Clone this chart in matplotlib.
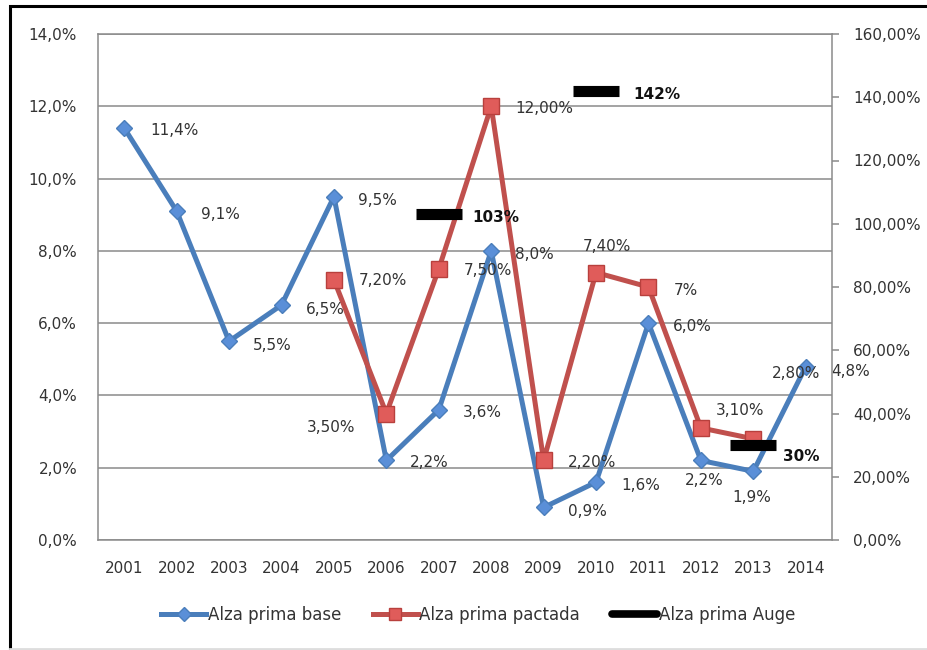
import matplotlib
matplotlib.use("Agg")
import matplotlib.pyplot as plt
from matplotlib.patches import Rectangle

years = ["2001", "2002", "2003", "2004", "2005", "2006", "2007",
         "2008", "2009", "2010", "2011", "2012", "2013", "2014"]
base = [11.4, 9.1, 5.5, 6.5, 9.5, 2.2, 3.6, 8.0, 0.9, 1.6, 6.0, 2.2, 1.9, 4.8]
base_labels = ["11,4%", "9,1%", "5,5%", "6,5%", "9,5%", "2,2%", "3,6%",
               "8,0%", "0,9%", "1,6%", "6,0%", "2,2%", "1,9%", "4,8%"]
pact_idx = [4, 5, 6, 7, 8, 9, 10, 11, 12]
pactada = [7.2, 3.5, 7.5, 12.0, 2.2, 7.4, 7.0, 3.1, 2.8]
pact_labels = ["7,20%", "3,50%", "7,50%", "12,00%", "2,20%", "7,40%", "7%",
               "3,10%", "2,80%"]
auge_idx = [6, 9, 12]
auge = [103, 142, 30]
auge_labels = ["103%", "142%", "30%"]

# label offsets in pixels (dx, dy)
base_off = [(26, -3), (24, -3), (24, -4), (24, -4), (24, -4), (24, -2), (24, -3),
            (24, -4), (24, -4), (25, -3), (24, -3), (-16, -20), (-21, -26), (25, -5)]
pact_off = [(25, -1), (-80, -14), (25, -2), (24, -2), (24, -2), (-13, 26), (25, -3),
            (15, 17), (19, 65)]
auge_off = [(34, -3), (37, -4), (30, -11)]

blue = "#4a7ebb"
red = "#c0504d"
txt = "#333333"
grid = "#8a8a8a"
fs = 11

plt.rcParams["font.family"] = "DejaVu Sans"
fig = plt.figure(figsize=(9.27, 6.5), dpi=100)
ax = fig.add_axes([98 / 927, 1 - 540 / 650, 734 / 927, 506 / 650])
ax2 = ax.twinx()

ax.plot(range(len(base)), base, "-", color=blue, lw=3.6, marker="D", ms=8.5,
        mfc="#5a8fd8", mec="#4a7ebb", mew=1, label="Alza prima base", zorder=3)
ax.plot(pact_idx, pactada, "-", color=red, lw=3.6, marker="s", ms=11,
        mfc="#e05c5a", mec="#b8403d", mew=1, label="Alza prima pactada", zorder=4)
ax2.plot(auge_idx, auge, ls="none", marker="_", ms=33, mew=8, color="black",
         label="Alza prima Auge", zorder=5)

for i, (v, s) in enumerate(zip(base, base_labels)):
    ax.annotate(s, (i, v), xytext=base_off[i], textcoords="offset pixels",
                fontsize=fs, color=txt, ha="left", va="center", zorder=6)
for k, (i, v, s) in enumerate(zip(pact_idx, pactada, pact_labels)):
    ax.annotate(s, (i, v), xytext=pact_off[k], textcoords="offset pixels",
                fontsize=fs, color=txt, ha="left", va="center", zorder=6)
for k, (i, v, s) in enumerate(zip(auge_idx, auge, auge_labels)):
    ax2.annotate(s, (i, v), xytext=auge_off[k], textcoords="offset pixels",
                 fontsize=fs, color="#111111", fontweight="bold",
                 ha="left", va="center", zorder=6)

ax.set_xlim(-0.5, len(years) - 0.5)
ax.set_ylim(0, 14)
ax2.set_ylim(0, 160)
ax.set_xticks(range(len(years)))
ax.set_xticklabels(years)
ax.set_yticks(range(0, 15, 2))
ax.set_yticklabels(["%d,0%%" % t for t in range(0, 15, 2)])
ax2.set_yticks(range(0, 161, 20))
ax2.set_yticklabels(["%d,00%%" % t for t in range(0, 161, 20)])

ax.yaxis.grid(True, color=grid, lw=1.1)
ax.set_axisbelow(True)
ax.tick_params(axis="y", length=0, pad=15, labelsize=fs, labelcolor=txt)
ax.tick_params(axis="x", length=0, pad=15, labelsize=fs, labelcolor=txt)
ax2.tick_params(axis="y", length=5, width=1.1, color=grid, pad=10,
                labelsize=fs, labelcolor=txt)
for a in (ax, ax2):
    for side in ("top", "left", "bottom", "right"):
        a.spines[side].set_color(grid)
        a.spines[side].set_linewidth(1.1)
ax2.spines["top"].set_visible(False)
ax.spines["right"].set_visible(False)
ax2.spines["left"].set_visible(False)
ax2.spines["bottom"].set_visible(False)

h1, l1 = ax.get_legend_handles_labels()
h2, l2 = ax2.get_legend_handles_labels()
leg_auge = plt.Line2D([], [], color="black", lw=5.5, solid_capstyle="round")
fig.legend(h1 + [leg_auge], l1 + l2, loc="center", ncol=3,
           bbox_to_anchor=(478 / 927, 1 - 615 / 650), frameon=False,
           fontsize=12, handlelength=2.7, handletextpad=0.1,
           columnspacing=1.9, markerscale=0.8, labelcolor=txt)

# outer frame
fig.add_artist(Rectangle((9.5 / 927, -0.02), 1.0, 1 - 6 / 650 + 0.02,
                         transform=fig.transFigure, fill=False,
                         ec="black", lw=2.2))
fig.add_artist(plt.Line2D([9.5 / 927, 1], [1.5 / 650, 1.5 / 650],
                          transform=fig.transFigure, color="#dddddd", lw=2))

fig.savefig("out.png", dpi=100)
